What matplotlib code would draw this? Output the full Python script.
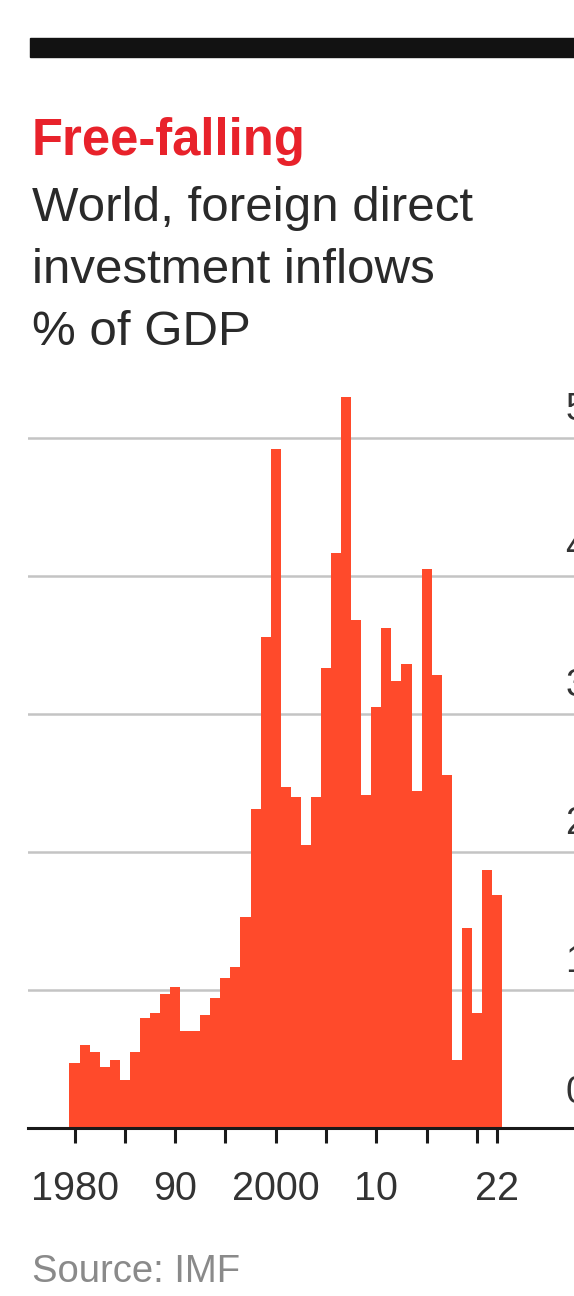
import matplotlib
matplotlib.use('Agg')
import matplotlib.pyplot as plt
import matplotlib.patches as patches

# World FDI inflows, % of GDP
years = list(range(1980, 2023))
fdi_pct_gdp = [
    0.47, 0.60, 0.55, 0.44, 0.49, 0.35, 0.55, 0.80, 0.83, 0.97,
    1.02, 0.70, 0.70, 0.82, 0.94, 1.09, 1.17, 1.53, 2.31, 3.56,
    4.92, 2.47, 2.40, 2.05, 2.40, 3.33, 4.17, 5.30, 3.68, 2.41,
    3.05, 3.62, 3.24, 3.36, 2.44, 4.05, 3.28, 2.56, 0.49, 1.45,
    0.83, 1.87, 1.69,
]
tick_years = [1980, 1985, 1990, 1995, 2000, 2005, 2010, 2015, 2020, 2022]
tick_labels = ['1980', '', '90', '', '2000', '', '10', '', '', '22']
y_ticks = [0, 1, 2, 3, 4, 5]

W, H = 574, 1296
plt.rcParams['font.family'] = ['Liberation Sans', 'DejaVu Sans']

fig = plt.figure(figsize=(W / 100, H / 100), dpi=100)


def fx(px):
    return px / W


def fy(py):
    return 1 - py / H


# barra negra superior
fig.patches.append(patches.Rectangle((fx(30), fy(57)), fx(W - 30), 19 / H,
                                     transform=fig.transFigure,
                                     color='#121212', zorder=5))

# titulos
fig.text(fx(32), fy(155), 'Free-falling', color='#e8222b', fontsize=36.5,
         fontweight='bold', va='baseline')
fig.text(fx(32), fy(221), 'World, foreign direct', color='#2a2a2a',
         fontsize=35.5, va='baseline')
fig.text(fx(32), fy(283), 'investment inflows', color='#2a2a2a',
         fontsize=35.5, va='baseline')
fig.text(fx(32), fy(345), '% of GDP', color='#2a2a2a',
         fontsize=35.5, va='baseline')
fig.text(fx(32), fy(1282), 'Source: IMF', color='#8a8a8a',
         fontsize=27.5, va='baseline')

# ejes: base en y=1128 px, 138 px por punto porcentual
ymax = 5.4
ax = fig.add_axes([fx(28), fy(1128), 1 - fx(28), ymax * 138 / H])
x0 = 1980 + (28 - 74.5) / 10.06
x1 = 1980 + (W - 74.5) / 10.06
ax.set_xlim(x0, x1)
ax.set_ylim(0, ymax)

for v in y_ticks[1:]:
    ax.axhline(v, color='#c4c4c4', linewidth=1.8, zorder=1)
    ax.text(2028.8, v + 0.07, str(v), fontsize=27, color='#333333',
            ha='left', va='bottom', clip_on=False)
ax.text(2028.8, 0.12, '0', fontsize=27, color='#333333',
        ha='left', va='bottom', clip_on=False)

ax.bar(years, fdi_pct_gdp, width=1.0, color='#ff4a2b', linewidth=0,
       zorder=2)

for s in ['top', 'right', 'left']:
    ax.spines[s].set_visible(False)
ax.spines['bottom'].set_linewidth(2.2)
ax.spines['bottom'].set_color('#1a1a1a')
ax.spines['bottom'].set_zorder(3)

ax.set_yticks([])
ax.set_xticks(tick_years)
ax.set_xticklabels(tick_labels)
ax.tick_params(axis='x', direction='out', length=11, width=2.2,
               color='#1a1a1a', labelsize=28.5, labelcolor='#333333', pad=19)
ax.patch.set_alpha(0)

fig.savefig('out.png', dpi=100, facecolor='white')
